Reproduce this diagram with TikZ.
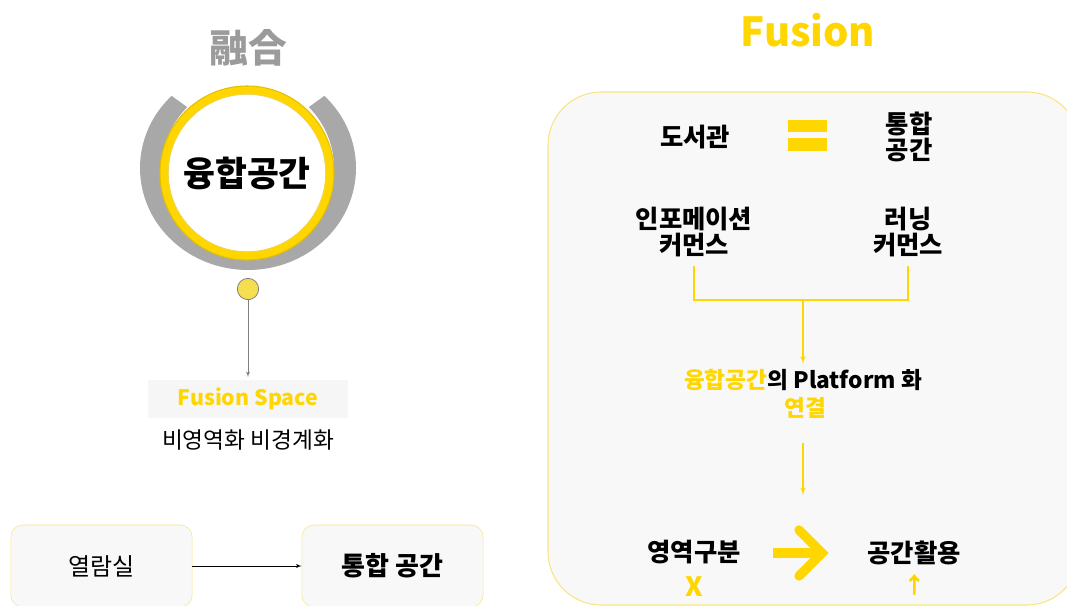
\documentclass[tikz,border=0pt]{standalone}
\usepackage{fontspec}
\setmainfont{Noto Sans CJK KR}
\usetikzlibrary{positioning}
\usetikzlibrary{arrows,arrows.meta}
\usetikzlibrary{calc}
\definecolor{fyellow}{RGB}{255,214,0}
\definecolor{ringgold}{RGB}{230,190,0}
\definecolor{dotyellow}{RGB}{245,222,80}
\definecolor{ringgray}{RGB}{168,168,168}
\definecolor{hanjagray}{RGB}{155,155,155}
\definecolor{panelfill}{RGB}{248,248,249}
\definecolor{panelline}{RGB}{248,230,130}
\tikzstyle{room} = [draw=panelline, fill=panelfill, rectangle, rounded corners=9pt, minimum width=136pt, minimum height=61.5pt, font=\fontsize{18}{21}\selectfont]
\tikzstyle{word} = [align=center, font=\bfseries\fontsize{19}{23}\selectfont, inner sep=1pt]
\tikzstyle{yword} = [word, text=fyellow]
\tikzstyle{yline} = [draw=fyellow, line width=0.9pt]
\tikzstyle{bar} = [fill=fyellow]

\begin{document}
\begin{tikzpicture}[x=0.75pt, y=0.75pt, >=latex']
  \clip (0,0) rectangle (1067,606);
  \fill[white] (0,0) rectangle (1067,606);

  % left side: circle emblem
  \node [text=hanjagray, font=\bfseries\fontsize{29}{32}\selectfont] (hanja) at (248,558) {融合};
  \coordinate (halo) at (248,438);
  \coordinate (core) at (247,433);
  \fill [ringgray] ($(halo)+(135:108 and 102)$) arc[start angle=135, end angle=405, x radius=108, y radius=102]
    -- ($(halo)+(45:86)$) arc[start angle=45, end angle=-225, radius=86] -- cycle;
  \node [circle, fill=fyellow, draw=ringgold, line width=0.8pt, minimum size=130.5pt] (ring) at (core) {};
  \node [circle, fill=white, draw=ringgold!70, line width=0.5pt, minimum size=118pt,
    font=\bfseries\fontsize{26}{29}\selectfont] (fusionspace) at (core) {융합공간};
  \node [circle, fill=dotyellow, draw=gray, line width=0.6pt, minimum size=16pt] (dot) at (248,317) {};
  \node [fill=gray!7, minimum width=150pt, minimum height=28.5pt, text=fyellow,
    font=\bfseries\fontsize{16}{19}\selectfont] (fspace) at (248,207) {Fusion Space};
  \node [font=\fontsize{17}{20}\selectfont] (noborder) at (248,166) {비영역화 비경계화};
  \draw [->, gray] (dot) -- ([yshift=2pt]fspace.north);

  % left side: rooms
  \node [room] (reading) at (101.5,40) {열람실};
  \node [room, font=\bfseries\fontsize{19.5}{22}\selectfont] (merged) at (392.5,40) {통합 공간};
  \draw [->] (reading) -- (merged);

  % right side: panel
  \node [text=fyellow, font=\bfseries\fontsize{30}{34}\selectfont] (title) at (808,576) {Fusion};
  \draw [panelline, fill=panelfill, line width=0.8pt, rounded corners=40pt] (548,1) rectangle (1080,514);

  \node [word] (library) at (695,469) {도서관};
  \fill [bar] (788,474) rectangle (827,486);
  \fill [bar] (788,455) rectangle (827,468);
  \node [word, text width=60pt] (union) at (909,469) {통합\\[-3pt]공간};
  \node [word, text width=100pt] (infocommons) at (694,374) {인포메이션\\[-4pt]커먼스};
  \node [word, text width=80pt] (learncommons) at (908,374) {러닝\\[-4pt]커먼스};

  \coordinate (split) at (803,306);
  \draw [yline] ([yshift=-6pt]infocommons.south) |- (split) -| ([yshift=-6pt]learncommons.south);
  \node [word, font=\bfseries\fontsize{17}{22}\selectfont] (platform) at (803,226) {\textcolor{fyellow}{융합공간}의 Platform 화};
  \node [yword, font=\bfseries\fontsize{17}{22}\selectfont] (link) at (805,198) {연결};
  \draw [yline, ->] (split) -- ([yshift=3pt]platform.north);

  \coordinate (midtop) at (803,163);
  \coordinate (midbot) at (803,111);
  \draw [yline, ->] (midtop) -- (midbot);

  \node [word] (zones) at (694,54) {영역구분};
  \node [yword, font=\bfseries\fontsize{20}{22}\selectfont] (nozone) at (694,19) {X};
  \node [word] (useful) at (914,53) {공간활용};
  \node [yword, font=\bfseries\fontsize{17}{22}\selectfont] (more) at (915,21) {↑};
  \coordinate (bigtail) at (773,53);
  \coordinate (bigtip) at (822,53);
  \draw [fyellow, line width=7pt] (bigtail) -- (bigtip);
  \draw [fyellow, line width=7pt, line cap=round] ($(bigtip)+(-23,23)$) -- (bigtip) -- ($(bigtip)+(-23,-23)$);
\end{tikzpicture}
\end{document}
